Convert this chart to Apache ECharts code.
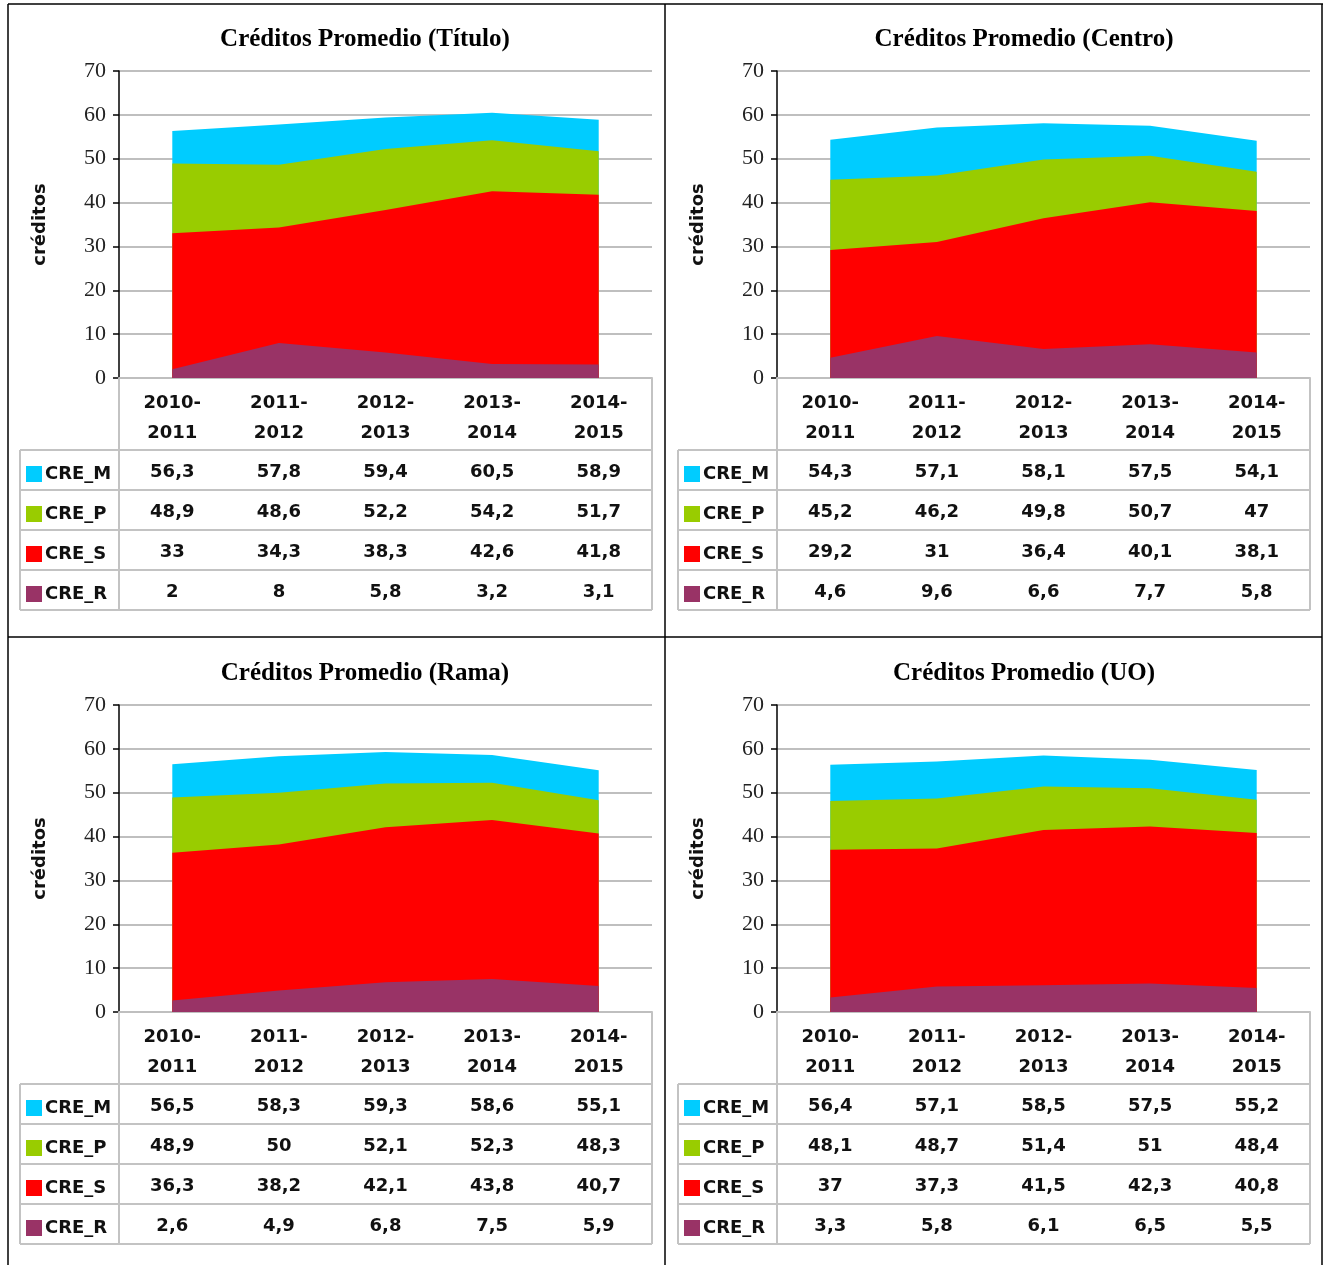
<!DOCTYPE html>
<html><head><meta charset="utf-8">
<script src="https://cdn.jsdelivr.net/npm/echarts@6/dist/echarts.min.js"></script>
<style>html,body{margin:0;padding:0;background:#fff}#c{width:1327px;height:1265px}</style>
</head><body><div id="c"></div>
<script>
const categories = ['2010-2011', '2011-2012', '2012-2013', '2013-2014', '2014-2015'];
const seriesNames = ['CRE_M', 'CRE_P', 'CRE_S', 'CRE_R'];
const yTicks = [0, 10, 20, 30, 40, 50, 60, 70];

const tituloM = [56.3, 57.8, 59.4, 60.5, 58.9];
const tituloP = [48.9, 48.6, 52.2, 54.2, 51.7];
const tituloS = [33, 34.3, 38.3, 42.6, 41.8];
const tituloR = [2, 8, 5.8, 3.2, 3.1];

const centroM = [54.3, 57.1, 58.1, 57.5, 54.1];
const centroP = [45.2, 46.2, 49.8, 50.7, 47];
const centroS = [29.2, 31, 36.4, 40.1, 38.1];
const centroR = [4.6, 9.6, 6.6, 7.7, 5.8];

const ramaM = [56.5, 58.3, 59.3, 58.6, 55.1];
const ramaP = [48.9, 50, 52.1, 52.3, 48.3];
const ramaS = [36.3, 38.2, 42.1, 43.8, 40.7];
const ramaR = [2.6, 4.9, 6.8, 7.5, 5.9];

const uoM = [56.4, 57.1, 58.5, 57.5, 55.2];
const uoP = [48.1, 48.7, 51.4, 51, 48.4];
const uoS = [37, 37.3, 41.5, 42.3, 40.8];
const uoR = [3.3, 5.8, 6.1, 6.5, 5.5];

const titles = ['Créditos Promedio (Título)', 'Créditos Promedio (Centro)', 'Créditos Promedio (Rama)', 'Créditos Promedio (UO)'];
const panelData = [
  [tituloM, tituloP, tituloS, tituloR],
  [centroM, centroP, centroS, centroR],
  [ramaM, ramaP, ramaS, ramaR],
  [uoM, uoP, uoS, uoR]
];
const colors = ['#00CCFF', '#99CC00', '#FF0000', '#993366'];

const layout = [
  {left: 119, top: 71, tcx: 365},
  {left: 777, top: 71, tcx: 1024},
  {left: 119, top: 705, tcx: 365},
  {left: 777, top: 705, tcx: 1024}
];
const GW = 533, GH = 307;
const SANS = '"DejaVu Sans", sans-serif';
const SERIF = '"Liberation Serif", "Times New Roman", serif';

const chart = echarts.init(document.getElementById('c'), null, {renderer: 'canvas'});

const grid = [], xAxis = [], yAxis = [], series = [];
layout.forEach((L, p) => {
  grid.push({left: L.left, top: L.top, width: GW, height: GH, containLabel: false});
  xAxis.push({
    type: 'category', gridIndex: p, data: categories, boundaryGap: true,
    axisLine: {show: true, lineStyle: {color: '#bfbfbf', width: 2}},
    axisTick: {show: false},
    axisLabel: {
      margin: 10, color: '#111', fontFamily: SANS, fontWeight: 'bold', fontSize: 18, lineHeight: 30,
      formatter: v => v.replace('-', '-\n')
    },
    splitLine: {show: false}, z: 1
  });
  yAxis.push({
    type: 'value', gridIndex: p, min: yTicks[0], max: yTicks[yTicks.length - 1], interval: yTicks[1] - yTicks[0],
    name: 'créditos', nameLocation: 'middle', nameGap: 70, nameRotate: 90,
    nameTextStyle: {fontFamily: SANS, fontWeight: 'bold', fontSize: 18, color: '#111'},
    axisLine: {show: true, lineStyle: {color: '#000', width: 1.5}},
    axisTick: {show: true, inside: false, length: 6, lineStyle: {color: '#000', width: 1.5}},
    axisLabel: {margin: 13, color: '#222', fontFamily: SERIF, fontSize: 22},
    splitLine: {show: true, lineStyle: {color: '#bfbfbf', width: 2}}
  });
  seriesNames.forEach((nm, k) => {
    series.push({
      name: nm, type: 'line', xAxisIndex: p, yAxisIndex: p, data: panelData[p][k],
      showSymbol: false, symbol: 'none', silent: true, animation: false,
      lineStyle: {width: 0, color: colors[k]},
      itemStyle: {color: colors[k]},
      areaStyle: {color: colors[k], opacity: 1},
      z: 2 + k
    });
  });
});

chart.setOption({animation: false, grid, xAxis, yAxis, series});

const fmt = v => String(v).replace('.', ',');
const graphic = [];
const LC = '#c3c3c3';
function line(x1, y1, x2, y2, stroke, w) {
  graphic.push({type: 'line', silent: true, z: 100, shape: {x1, y1, x2, y2}, style: {stroke, lineWidth: w}});
}
// frame
line(8, 4, 1323, 4, '#000', 1.5);
line(8, 4, 8, 1265, '#000', 1.5);
line(1322, 4, 1322, 1265, '#000', 1.5);
line(665, 4, 665, 1265, '#000', 1.5);
line(8, 637, 1322, 637, '#000', 1.5);

layout.forEach((L, p) => {
  graphic.push({type: 'text', z: 100, x: L.tcx, y: L.top - 31, style: {
    text: titles[p], font: 'bold 25px ' + SERIF, fill: '#000', textAlign: 'center', textVerticalAlign: 'middle'}});
  const gb = L.top + GH;
  const tl = L.left - 99, tr = L.left + GW;
  const hb = gb + 72, rh = 40;
  const bottom = hb + rh * 4;
  line(L.left, gb, L.left, bottom, LC, 2);
  line(tr, gb, tr, bottom, LC, 2);
  line(tl, hb, tl, bottom, LC, 2);
  for (let r = 0; r <= 4; r++) line(tl, hb + r * rh, tr, hb + r * rh, LC, 2);
  seriesNames.forEach((nm, k) => {
    const cy = hb + rh * k + rh / 2 + 4;
    graphic.push({type: 'rect', z: 100, shape: {x: tl + 6, y: cy - 8, width: 16, height: 16}, style: {fill: colors[k]}});
    graphic.push({type: 'text', z: 100, x: tl + 25, y: cy, style: {
      text: nm, font: 'bold 18px ' + SANS, fill: '#111', textAlign: 'left', textVerticalAlign: 'middle'}});
    panelData[p][k].forEach((v, i) => {
      const px = chart.convertToPixel({xAxisIndex: p}, i);
      graphic.push({type: 'text', z: 100, x: px, y: cy - 2, style: {
        text: fmt(v), font: 'bold 18px ' + SANS, fill: '#111', textAlign: 'center', textVerticalAlign: 'middle'}});
    });
  });
});

chart.setOption({graphic});
</script>
</body></html>
